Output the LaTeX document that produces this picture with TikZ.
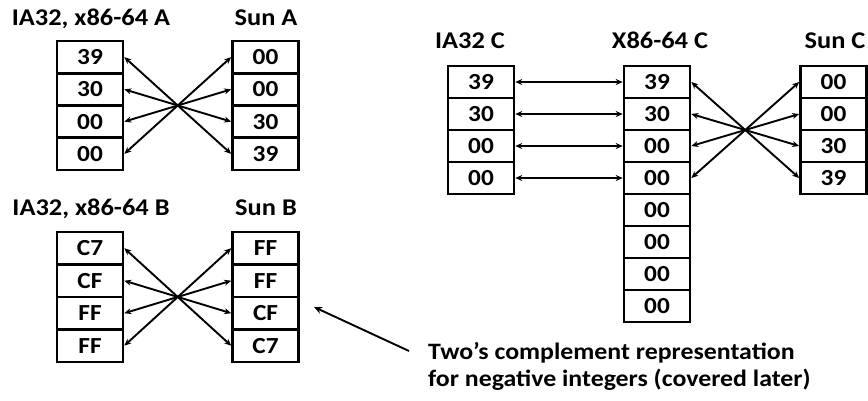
\documentclass[tikz,border=0pt]{standalone}
\usepackage{fontspec}
\setmainfont{Carlito}[FakeStretch=1.1]
\usetikzlibrary{arrows.meta}
\tikzset{
	cell/.style={draw, line width=2.6pt, minimum width=66pt, minimum height=32pt, inner sep=0pt, font=\fontsize{23}{26}\selectfont\bfseries},
	title/.style={anchor=base, font=\fontsize{24}{28}\selectfont\bfseries},
	link/.style={{Stealth[length=7pt,width=6pt]}-{Stealth[length=7pt,width=6pt]}, line width=1.9pt}
}
\begin{document}
\begin{tikzpicture}[x=1pt,y=-1pt]
		\useasboundingbox (0,0) rectangle (868,400);
		% A
		\node[title] (ta1) at (91,25) {IA32, x86-64 A};
		\node[title] (ta2) at (266,25) {Sun A};
		\foreach \v [count=\i from 0] in {39,30,00,00}
			\node[cell, minimum height=32.25pt] (la\i) at (90,{57.1+32.25*\i}) {\v};
		\foreach \v [count=\i from 0] in {00,00,30,39}
			\node[cell, minimum height=32.25pt] (ra\i) at (265.5,{57.1+32.25*\i}) {\v};
		\foreach \i/\j in {0/3,1/2,2/1,3/0}
			\draw[link] (la\i.east) -- (ra\j.west);
		% B
		\node[title] (tb1) at (91,215) {IA32, x86-64 B};
		\node[title] (tb2) at (266,215) {Sun B};
		\foreach \v [count=\i from 0] in {C7,CF,FF,FF}
			\node[cell, minimum height=32.5pt] (lb\i) at (90,{248.2+32.5*\i}) {\v};
		\foreach \v [count=\i from 0] in {FF,FF,CF,C7}
			\node[cell, minimum height=32.5pt] (rb\i) at (265.5,{248.2+32.5*\i}) {\v};
		\foreach \i/\j in {0/3,1/2,2/1,3/0}
			\draw[link] (lb\i.east) -- (rb\j.west);
		% C
		\node[title] (tc1) at (470,48) {IA32 C};
		\node[title] (tc2) at (660,48) {X86-64 C};
		\node[title] (tc3) at (835,48) {Sun C};
		\foreach \v [count=\i from 0] in {39,30,00,00}
			\node[cell] (ic\i) at (481,{82+32*\i}) {\v};
		\foreach \v [count=\i from 0] in {39,30,00,00,00,00,00,00}
			\node[cell] (xc\i) at (657,{82+32*\i}) {\v};
		\foreach \v [count=\i from 0] in {00,00,30,39}
			\node[cell] (sc\i) at (833.5,{82+32*\i}) {\v};
		\foreach \i in {0,...,3}
			\draw[link] (ic\i.east) -- (xc\i.west);
		\foreach \i/\j in {0/3,1/2,2/1,3/0}
			\draw[link] (xc\i.east) -- (sc\j.west);
		% note
		\node[anchor=base west, align=left, inner sep=0pt, font=\fontsize{23.5}{27}\selectfont\bfseries] (note) at (428,386) {Two’s complement representation\\for negative integers (covered later)};
		\coordinate (tail) at (409,351);
		\coordinate (head) at (314,307);
		\draw[-{Stealth[length=8pt,width=7pt]}, line width=1.9pt] (tail) -- (head);
		\end{tikzpicture}
\end{document}
